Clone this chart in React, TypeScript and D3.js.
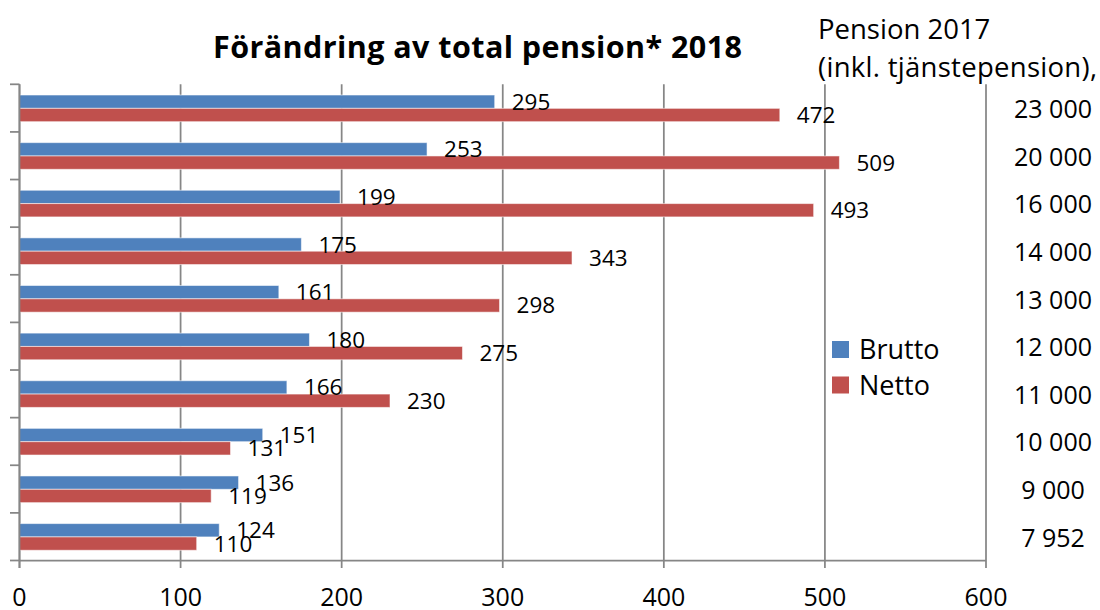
import React from "react";
import * as d3 from "d3";

const categories = ["23 000", "20 000", "16 000", "14 000", "13 000", "12 000", "11 000", "10 000", "9 000", "7 952"];
const brutto = [295, 253, 199, 175, 161, 180, 166, 151, 136, 124];
const netto = [472, 509, 493, 343, 298, 275, 230, 131, 119, 110];
const xTicks = [0, 100, 200, 300, 400, 500, 600];
const seriesNames = ["Brutto", "Netto"];
const seriesColors = ["#4F81BD", "#C0504D"];
const title = "Förändring av total pension* 2018";
const headerLines = ["Pension 2017", "(inkl. tjänstepension),"];

const W = 1100;
const H = 610;
const FONT = "'Open Sans', Lato, sans-serif";
const GRID = "#868686";

export default function App() {
  const x = d3.scaleLinear().domain([0, 600]).range([19.5, 986]);
  const y = d3.scaleBand<string>().domain(categories).range([84.3, 560.5]).paddingInner(0).paddingOuter(0);
  const bw = y.bandwidth();
  const inner = d3.scaleBand<string>().domain(seriesNames).range([bw * 0.225, bw * 0.785]).padding(0);
  const bh = inner.bandwidth();
  const series = [brutto, netto];
  const boundaries = categories.map((c) => y(c) as number).concat([y.range()[1]]);

  return (
    <svg width={W} height={H} style={{ position: "absolute", left: 0, top: 0, background: "#fff" }} fontFamily={FONT}>
      <rect x={0} y={0} width={W} height={H} fill="#fff" />
      {/* gridlines */}
      {xTicks.map((t) => (
        <line key={"g" + t} x1={x(t)} x2={x(t)} y1={84.3} y2={568} stroke={GRID} strokeWidth={1.75} />
      ))}
      {/* bottom axis */}
      <line x1={x(0)} x2={x(600)} y1={560.5} y2={560.5} stroke={GRID} strokeWidth={1.75} />
      {/* left axis ticks */}
      {boundaries.map((b, i) => (
        <line key={"t" + i} x1={10} x2={x(0)} y1={b} y2={b} stroke={GRID} strokeWidth={1.75} />
      ))}
      {/* bars */}
      {categories.map((c, ci) =>
        series.map((s, si) => {
          const yy = (y(c) as number) + (inner(seriesNames[si]) as number);
          return (
            <rect
              key={c + si}
              x={x(0)}
              y={yy}
              width={x(s[ci]) - x(0)}
              height={bh}
              fill={seriesColors[si]}
              stroke="#ffffff"
              strokeOpacity={0.55}
              strokeWidth={1}
            />
          );
        })
      )}
      {/* left axis line */}
      <line x1={x(0)} x2={x(0)} y1={84.3} y2={568} stroke={GRID} strokeWidth={1.75} />
      {/* data labels */}
      {categories.map((c, ci) =>
        series.map((s, si) => {
          const yy = (y(c) as number) + (inner(seriesNames[si]) as number) + bh / 2;
          return (
            <text key={"l" + c + si} x={x(s[ci]) + 17} y={yy + 8} fontSize={22.5} fill="#000">
              {s[ci]}
            </text>
          );
        })
      )}
      {/* x tick labels */}
      {xTicks.map((t) => (
        <text key={"x" + t} x={x(t)} y={606} textAnchor="middle" fontSize={25} fill="#000">
          {t}
        </text>
      ))}
      {/* right category labels */}
      {categories.map((c) => (
        <text key={"r" + c} x={1053} y={(y(c) as number) + bw / 2 + 10} textAnchor="middle" fontSize={25} fill="#000">
          {c}
        </text>
      ))}
      {/* header */}
      <text x={818} y={39} fontSize={27.5} fill="#000">{headerLines[0]}</text>
      <text x={818} y={77} fontSize={27.5} fill="#000" textLength={279} lengthAdjust="spacing">{headerLines[1]}</text>
      {/* title */}
      <text x={213} y={58} fontSize={30.5} fontWeight="bold" fill="#000" textLength={529} lengthAdjust="spacing">
        {title}
      </text>
      {/* legend */}
      {seriesNames.map((n, i) => (
        <g key={"lg" + n} transform={`translate(832, ${341 + i * 35.5})`}>
          <rect x={0} y={0} width={17} height={17} fill={seriesColors[i]} />
          <text x={27} y={18} fontSize={27} fill="#000">{n}</text>
        </g>
      ))}
    </svg>
  );
}
